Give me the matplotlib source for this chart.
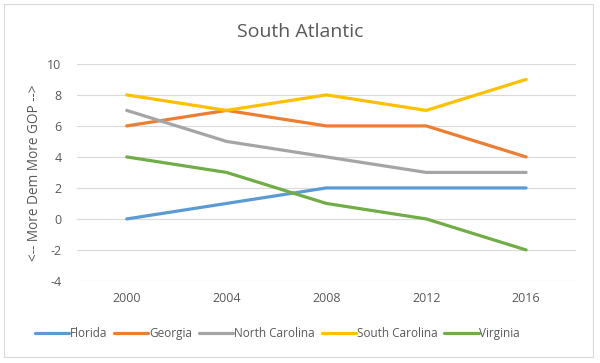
import matplotlib
matplotlib.use("Agg")
import matplotlib.pyplot as plt
import matplotlib.patches as patches

years = ["2000", "2004", "2008", "2012", "2016"]
florida = [0, 1, 2, 2, 2]
georgia = [6, 7, 6, 6, 4]
north_carolina = [7, 5, 4, 3, 3]
south_carolina = [8, 7, 8, 7, 9]
virginia = [4, 3, 1, 0, -2]

series = [
    ("Florida", florida, "#5B9BD5"),
    ("Georgia", georgia, "#ED7D31"),
    ("North Carolina", north_carolina, "#A5A5A5"),
    ("South Carolina", south_carolina, "#FFC000"),
    ("Virginia", virginia, "#70AD47"),
]

plt.rcParams['font.family'] = ['Open Sans', 'DejaVu Sans']
plt.rcParams['axes.unicode_minus'] = False

fig = plt.figure(figsize=(6.0, 3.63), dpi=100)
ax = fig.add_axes([0.128, 0.226, 0.832, 0.598])

x = list(range(len(years)))
for name, vals, col in series:
    ax.plot(x, vals, color=col, linewidth=2.3, label=name, solid_capstyle='round')

ax.set_xlim(-0.5, len(years) - 0.5)
ax.set_ylim(-4, 10)
ax.set_yticks(range(-4, 11, 2))
ax.set_xticks(x)
ax.set_xticklabels(years)
ax.grid(axis='y', color='#D9D9D9', linewidth=0.8)
ax.set_axisbelow(True)
for s in ax.spines.values():
    s.set_visible(False)
ax.tick_params(length=0, labelsize=9, colors='#595959', pad=8)
ax.tick_params(axis='y', pad=11)

ax.set_ylabel("<-- More Dem More GOP -->", fontsize=9.8, color='#595959', labelpad=4)
fig.text(0.5, 0.912, "South Atlantic", ha='center', va='center', fontsize=14, color='#595959')

leg = fig.legend(loc='center left', bbox_to_anchor=(0.058, 0.082), ncol=5, frameon=False,
                 fontsize=8.5, handlelength=2.9, handletextpad=0.05, columnspacing=0.6,
                 borderaxespad=0, borderpad=0)
for t in leg.get_texts():
    t.set_color('#595959')

fig.patches.append(patches.Rectangle((0.006, 0.016), 0.983, 0.972, transform=fig.transFigure,
                                     fill=False, edgecolor='#D9D9D9', linewidth=0.8))

fig.savefig("out.png", dpi=100)
